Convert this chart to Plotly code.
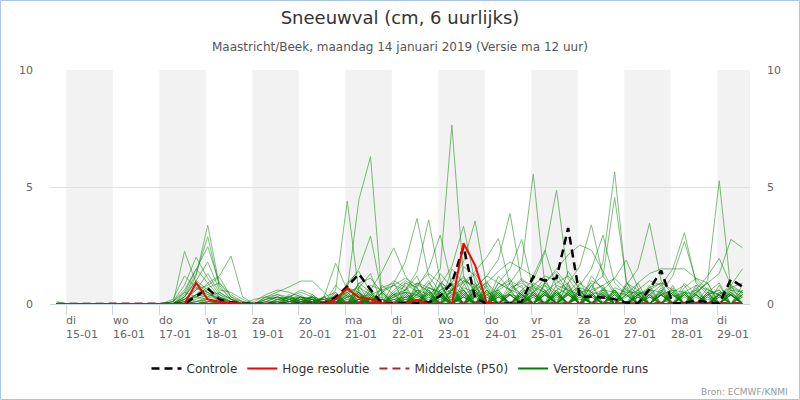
import pandas as pd
import plotly.graph_objects as go

# ---------------- data ----------------
start_time = "2019-01-14 19:00"
n_steps = 60  # 6-hourly values

controle = [0,0,0,0,0,0,0,0,0,0,
            0,0,0.33,0.67,0.2,0.07,0.02,0,0,0,
            0,0,0,0,0.3,0.75,1.28,0.62,0.02,0.02,
            0.03,0.05,0.07,0.35,0.9,2.45,0.25,0.02,0,0.03,
            0.1,1.17,1.0,1.1,3.25,0.31,0.31,0.28,0.2,0.06,
            0.03,0.62,1.43,0.02,0.06,0.14,0.08,0.03,1.05,0.74]

hres = [0,0,0,0,0,0,0,0,0,0,
        0,0,0.9,0.2,0.1,0.05,0,0,0,0,
        0,0,0,0,0.2,0.67,0.28,0.2,0.03,0,
        0,0.17,0,0,0,2.6,1.65,0.05,0,0,
        0]

p50 = [0,0,0,0,0,0,0,0,0,0,
       0,0,0.02,0.03,0.02,0,0,0,0,0,
       0,0,0,0,0.03,0.04,0.05,0.04,0.03,0.03,
       0.04,0.05,0.04,0.05,0.05,0.06,0.04,0.03,0.04,0.05,
       0.05,0.06,0.05,0.05,0.06,0.05,0.04,0.05,0.05,0.04,
       0.04,0.05,0.05,0.04,0.05,0.04,0.04,0.05,0.04,0.04]

members = [
 [0.1,0,0,0,0,0,0,0,0,0, 0,2.25,0.9,0.5,0.1,0,0,0,0,0, 0,0.3,0,0,0,0.6,0.3,0,0,0.4, 0.8,0,0,0,0.6,1.2,0,0,0.5,0, 0,0.5,1.1,0,0,0,0.4,0,0.6,0, 0,0,0.5,0,0,0.8,0,0,0.4,0],
 [0,0,0,0,0,0,0,0,0,0, 0,0.3,1.2,3.37,0.8,0.2,0,0,0,0, 0,0,0.2,0,0,0.6,4.45,6.3,0.2,0, 0,0.7,0,0.9,0,0,0.3,1.0,0,0, 0.4,0,0,1.3,0.5,0,0,0,0,0.3, 0.6,0,0,0.5,0,0,0.4,0.6,0,0],
 [0,0,0,0,0,0,0,0,0,0, 0,0.1,0.4,0.9,1.2,2.05,0.3,0,0,0, 0,0,0.2,0,0,0,0.9,0.5,0,0, 0.6,1.2,0,0,1.5,0.9,0,0,0.7,1.1, 0,0,0,0.6,0.9,0,0,0.7,0,0, 0,0.6,0.9,0,0,0.3,0,0,0.7,0.5],
 [0,0,0,0,0,0,0,0,0,0, 0.1,0.8,2.0,1.1,0.4,0.1,0,0,0,0, 0,0,0,0.3,0.5,0,0.7,1.3,0,0, 0,0.4,1.0,0,0,1.6,1.2,0,0,0.5, 0.8,0,0,0,0.5,1.0,0,0,0,0, 0.4,0,0,0.7,0,0,0.5,0.9,0,0.6],
 [0,0,0,0,0,0,0,0,0,0, 0,0.2,0.6,0.8,1.15,0.3,0,0,0,0, 0,0.2,0,0,0.6,4.4,0.5,0,0,0, 0.5,0,0,0.6,0.8,0,0.9,0,0,0.4, 0,0.7,0.5,0,0,0,1.2,0.6,0,0, 0.9,0,0,0,0.5,0,0,0.8,0,0],
 [0,0,0,0,0,0,0,0,0,0, 0,0.4,1.3,2.88,0.7,0.2,0,0,0,0.1, 0.3,0,0,0,0,0.9,1.4,0.5,0,0, 0,0.6,0,1.3,0.7,0,0.5,0,0.9,0.6, 0,0,0.8,0,1.4,0.6,0,0.5,0,0.8, 0,0,0.4,0.6,0,0.5,0.9,0,0,0.4],
 [0,0,0,0,0,0,0,0,0,0, 0,0.5,1.5,2.45,0.9,0.3,0.1,0,0,0, 0,0,0.2,0,0,0.4,0.8,0,0.5,1.0, 0.7,0,0.6,0,0,1.0,0.8,0,0,0.5, 1.1,0.6,0,0,0,0.4,0.9,0,0.5,0, 0,0.7,0,0,0.9,0.4,0,0,0.6,0.5],
 [0,0,0,0,0,0,0,0,0,0, 0,0.3,1.0,1.8,0.6,0.5,0.2,0,0,0, 0.2,0,0.3,0,0.8,0.3,0,0.6,0,0, 0.9,0.5,0,0.8,0,0.6,0,0.9,0.4,0, 0,0.8,0,0.6,0,0.7,0,0,0,0.6, 0,0,0,0.8,0,0,0,0.4,0.8,0],
 [0,0,0,0,0,0,0,0,0,0, 0.1,0.6,1.5,0.9,0.3,0.1,0,0,0,0, 0,0.1,0,0.3,0,0.5,0,0.8,0.6,0, 0,0.9,0.5,0,1.1,0.6,0,0,0.6,0, 0,0,0.9,0.5,0,0,0.6,0.8,0,0, 0.5,0,0.7,0,0,0.6,0,0,0,0.8],
 [0,0,0,0,0,0,0,0,0,0, 0.2,1.2,0.7,0.4,0.2,0,0,0,0,0, 0,0.2,0.3,0,0,0.7,0.5,0,0.8,0.4, 0,0,0.7,0.5,0,0.8,1.3,0.6,0,0, 0.6,0,0,0.8,0.6,0,0,0,0.7,0.5, 0,0.8,0,0,0,0,0.7,0,0,0],
 [0,0,0,0,0,0,0,0,0,0, 0,0.3,1.0,0.6,0.3,0.1,0,0,0,0, 0,0,0,0.3,1.74,0.6,0,0,0,0.3, 0.6,0,0.9,0.4,0,0,0.7,0,1.2,0.6, 0,0,0.5,0,0.8,0,0,0.6,0,0, 0.6,0,0,0.5,0.8,0,0,0.5,0,0],
 [0,0,0,0,0,0,0,0,0,0, 0,0.2,0.6,1.3,0.5,0.2,0.1,0,0,0, 0.2,0.3,0,0,0,0,0.9,1.1,0.5,0, 0,0.4,0,0.6,0.9,0,0,0.8,0,0.7, 0.9,0.5,0,0,0.6,0,0.8,0,0,0, 0.4,0,0.6,0,0,0.7,0,0,0.5,0],
 [0,0,0,0,0,0,0,0,0,0, 0,0.1,0.4,0.7,0.9,0.4,0.1,0,0,0, 0,0,0.4,0,0,0,0.5,0,0.7,0.9, 0,0.6,0,0.5,0,0.7,0.5,0,0,0.9, 0.4,0,0.6,0,0,0.9,0.5,0,0.6,0, 0,0.5,0,0,0.6,0,0.5,0,0,0.6],
 [0,0,0,0,0,0,0,0,0,0, 0,0.2,0.7,0.5,0.2,0.1,0,0,0,0, 0.2,0.4,0,0,0.5,0,0,0.4,0,0.6, 1.0,0.7,0,0,0.6,0,0,0.5,0,0, 0,0.9,0.6,0,0,0.5,0,0,0,0.7, 0,0,0,0.6,0,0,0.5,0.4,0,0],
 [0,0,0,0,0,0,0,0,0,0, 0,0.1,0.3,0.6,0.4,0.2,0,0,0,0, 0.3,0.5,0.3,0,0,0.8,0,0,0,0, 0.5,0,0,0.9,0,0,0.6,0,0.5,0, 0,0.4,0,0.5,0,0.6,0,0,0.5,0, 0,0,0.6,0,0,0,0.4,0.6,0,0],
 [0,0,0,0,0,0,0,0,0,0, 0.1,0.5,0.3,0.2,0.1,0,0,0,0,0, 0.4,0,0.3,0,0,0.3,0.5,0,0,0.5, 0,0.8,0.6,0,0,0.5,0,0.6,0,0, 0.5,0,0,0.4,0.7,0,0,0.5,0,0, 0.4,0.6,0,0,0.4,0,0,0,0.6,0],
 [0,0,0,0,0,0,0,0,0,0, 0,0.1,0.4,0.3,0.5,0.2,0,0,0,0, 0.1,0.3,0,0.3,0,0,0.6,0,0.5,0, 0,0,0.5,0,0.7,0,0,0,0.6,0, 0,0.5,0,0.6,0,0,0,0,0,0.5, 0.5,0,0.4,0,0.5,0,0,0.4,0,0.5],
 [0,0,0,0,0,0,0,0,0,0, 0,0.2,0.3,0.5,0.2,0.1,0,0,0.2,0.4, 0.3,0.2,0,0,0.4,0,0,0.5,0,0, 0.3,0,0.6,0,0,0.4,0,0,0,0.6, 0.4,0,0.5,0,0,0,0.5,0.4,0,0, 0,0.4,0,0,0.4,0,0,0.5,0.4,0],
 [0,0,0,0,0,0,0,0,0,0, 0,0,0.2,0.4,0.3,0.1,0,0,0.3,0.5, 0.73,0.98,0.98,0.5,0,0,0.4,0,0,0, 0.4,0,0,0.5,0,0.6,0,0.4,0,0, 0,0.4,0,0,0.5,0,0,0,0.6,0, 0,0,0.4,0,0,0.4,0,0,0,0.4],
 [0,0,0,0,0,0,0,0,0,0, 0,0,0.1,0.3,0.2,0,0,0,0.1,0.3, 0.2,0.3,0.2,0,0,0.8,1.5,2.9,0.4,0, 0,0.5,0,0.4,0.6,0,0.8,0,0,0, 0.5,0,0,0.4,0,0.6,0,0.4,0,0, 0.4,0,0,0.5,0,0,0.4,0,0.5,0],
 [0,0,0,0,0,0,0,0,0,0, 0,0,0.1,0.2,0.1,0,0,0,0,0.2, 0.3,0.6,0.4,0,0,0.4,0,0.6,1.4,2.4, 1.2,0.5,0,0,0.4,0.6,0,0,0.5,0, 0,0,0.6,0,0.4,0,0.5,0,0,0.4, 0,0.4,0,0,0.5,0,0,0.4,0,0],
 [0,0,0,0,0,0,0,0,0,0, 0,0,0,0.2,0.1,0,0,0,0.2,0.3, 0.1,0.2,0.1,0,0,0,0.5,0,0,0.9, 1.8,3.66,1.2,0.5,0,0.4,0,0.6,0,0, 0.4,0,0.5,0,0,0.6,0,0,0.4,0, 0,0,0.4,0,0,0.5,0,0,0,0.4],
 [0,0,0,0,0,0,0,0,0,0, 0,0,0,0.1,0.1,0,0,0.1,0.4,0.6, 0.5,0.3,0.2,0,0.4,0,0,0,0.5,0.8, 0.6,1.4,3.6,1.0,0.4,0,0.5,0,0,0.4, 0,0.5,0,0.4,0,0,0.5,0,0,0, 0.4,0,0,0.5,0,0,0,0.4,0,0],
 [0,0,0,0,0,0,0,0,0,0, 0,0,0,0.1,0.2,0,0,0.2,0.3,0.2, 0.1,0.2,0.3,0,0,0.5,0,0.4,0,0.5, 0.9,0.7,1.5,2.95,0.8,0.4,0,0.6,0,0, 0,0.4,0,0.5,0,0,0.4,0,0.6,0, 0,0,0.5,0,0.4,0,0,0,0.4,0],
 [0,0,0,0,0,0,0,0,0,0, 0,0,0,0,0.1,0,0,0,0,0.2, 0.3,0.1,0.2,0,0.3,0,0.4,0,0,0.3, 0.5,0.4,0.8,1.5,7.65,1.2,0.5,0,0,0.4, 0,0,0.4,0,0.5,0,0,0.4,0,0, 0,0.4,0,0,0,0.4,0,0,0.5,0],
 [0,0,0,0,0,0,0,0,0,0, 0,0,0.1,0.2,0,0,0,0,0.3,0.4, 0.2,0,0.1,0.3,0,0.4,0,0,0.5,0, 0,0.6,0.4,0.8,1.6,3.33,0.9,0.4,0,0, 0.4,0,0,0.5,0,0.4,0,0,0,0.4, 0,0,0.4,0,0.5,0,0,0,0,0.3],
 [0,0,0,0,0,0,0,0,0,0, 0,0,0,0.1,0.1,0,0,0,0.2,0.3, 0.1,0.3,0.2,0.2,0,0,0.5,0,0,0.4, 0.5,0,0.7,0.4,0.9,1.8,3.55,0.7,0,0.5, 0,0,0.4,0,0,0.5,0,0,0.4,0, 0,0,0,0.4,0,0,0.5,0,0,0],
 [0,0,0,0,0,0,0,0,0,0, 0,0,0,0,0.1,0,0,0,0.1,0.3, 0.2,0.1,0.3,0.2,0,0.3,0.4,0,0,0, 0.4,0,0.5,0,0.6,0.9,1.4,2.0,2.8,0.8, 0.4,0,0,0.5,0,0,0.4,0,0,0, 0,0.4,0,0,0,0,0.4,0,0,0],
 [0,0,0,0,0,0,0,0,0,0, 0,0,0,0.1,0,0,0,0,0,0.2, 0.1,0.2,0,0,0.3,0,0.3,0.4,0,0, 0,0.4,0,0.5,0,0.4,0.7,1.2,1.9,3.87, 1.0,0.4,0,0,0.5,0,0,0.4,0,0, 0,0,0.4,0,0,0,0,0.4,0,0],
 [0,0,0,0,0,0,0,0,0,0, 0,0,0,0,0,0,0,0,0,0, 0.1,0.1,0.2,0,0,0.3,0,0.3,0,0.4, 0,0,0.5,0.4,0,0,0.6,0,0.9,1.5, 2.76,0.6,0,0,0.4,0,0,0.5,0,0, 0,0,0,0.4,0,0,0,0,0.4,0],
 [0,0,0,0,0,0,0,0,0,0, 0,0,0,0,0,0,0,0,0,0.1, 0,0.1,0.1,0.2,0,0,0.3,0,0,0.2, 0.3,0.4,0,0.3,0.5,0,0,0.4,0.6,0.9, 1.6,5.55,0.8,0.4,0,0,0.4,0,0,0, 0,0.3,0,0,0,0.4,0,0,0,0],
 [0,0,0,0,0,0,0,0,0,0, 0,0,0,0,0,0,0,0,0,0, 0,0,0.1,0.1,0.2,0,0,0.3,0,0, 0,0.3,0.4,0,0,0.5,0,0,0.4,0, 0.6,1.0,2.2,4.87,1.1,0.4,0,0,0,0, 0.3,0,0,0,0.3,0,0,0,0.4,0],
 [0,0,0,0,0,0,0,0,0,0, 0,0,0,0,0,0,0,0,0,0, 0,0,0.1,0.2,0,0.2,0,0.3,0,0, 0.3,0,0,0.4,0,0,0.5,0,0,0.4, 0.3,0.5,0.9,1.5,2.1,2.52,2.3,1.4,0.5,0, 0,0.3,0,0,0,0,0,0.3,0,0],
 [0,0,0,0,0,0,0,0,0,0, 0,0,0,0,0,0,0,0,0.1,0.1, 0,0.1,0.1,0.1,0,0,0,0.2,0.3,0, 0,0.3,0,0.4,0,0,0.4,0,0.5,0, 0.4,0,0.5,0,0.9,1.6,3.38,1.2,0.4,0, 0,0,0.4,0,0,0,0,0.4,0,0],
 [0,0,0,0,0,0,0,0,0,0, 0,0,0,0,0,0,0,0,0,0.1, 0,0,0.1,0.2,0,0,0.2,0,0,0.3, 0,0,0.4,0,0,0,0.3,0.5,0,0, 0,0.5,0,0,0.4,0.8,1.5,2.95,0.9,0.4, 0,0,0,0,0.4,0,0,0,0,0.4],
 [0,0,0,0,0,0,0,0,0,0, 0,0,0,0,0,0,0,0,0,0, 0,0.1,0,0.1,0.2,0,0,0.2,0,0, 0,0,0.3,0,0.4,0,0,0,0.3,0.4, 0,0,0.4,0,0,0.5,0.6,1.8,5.65,0.9, 0.4,0,0,0,0,0.4,0,0,0,0],
 [0,0,0,0,0,0,0,0,0,0, 0,0,0,0,0,0,0,0,0,0, 0,0,0.1,0.1,0,0.2,0,0.2,0,0, 0.2,0,0,0.3,0,0.3,0,0.4,0,0, 0.3,0,0.4,0,0.5,0,0.8,1.2,4.56,1.0, 0,0,0.4,0,0,0,0.3,0,0,0],
 [0,0,0,0,0,0,0,0,0,0, 0,0,0,0,0,0,0,0,0,0, 0,0,0.1,0,0.1,0,0.2,0,0.2,0, 0.2,0,0,0.2,0.3,0,0.4,0,0,0, 0.4,0,0,0.5,0,0,0.4,0.6,1.1,1.88, 0.7,0,0,0.4,0,0,0,0.4,0,0],
 [0,0,0,0,0,0,0,0,0,0, 0,0,0,0,0,0,0,0,0,0, 0,0,0,0.1,0.1,0,0.1,0,0.2,0, 0,0.2,0,0,0,0.3,0,0.3,0,0.4, 0,0.3,0,0.4,0,0,0.3,0,0,0.8, 1.5,3.45,1.0,0.4,0,0,0.3,0,0.4,0],
 [0,0,0,0,0,0,0,0,0,0, 0,0,0,0,0,0,0,0,0,0, 0,0,0.1,0.1,0,0,0.2,0,0,0.2, 0,0.2,0,0.3,0,0,0.3,0,0.3,0, 0.3,0,0.4,0,0,0.4,0,0.3,0,0, 0.5,0.4,0.8,1.5,3.05,0.9,0.4,0,0,0.3],
 [0,0,0,0,0,0,0,0,0,0, 0,0,0,0,0,0,0,0,0,0, 0,0,0,0.1,0.1,0,0,0.2,0,0, 0.2,0,0.3,0,0,0.3,0,0,0.4,0, 0,0.3,0,0,0.4,0,0.3,0,0.4,0, 0.4,0.6,0.5,1.2,2.67,1.0,0.5,0,0.4,0],
 [0,0,0,0,0,0,0,0,0,0, 0,0,0,0,0,0,0,0,0,0, 0,0,0,0,0.1,0,0.1,0,0.2,0, 0,0.2,0,0,0.3,0,0,0,0.3,0, 0.3,0,0,0.2,0,0.3,0.4,0,0,0, 0.3,0,0,0.3,0.5,0.4,1.0,5.27,0.6,0.3],
 [0,0,0,0,0,0,0,0,0,0, 0,0,0,0,0,0,0,0,0,0, 0,0,0.1,0,0.1,0,0.2,0,0,0.2, 0,0.2,0,0,0.2,0,0,0.3,0,0, 0.2,0,0,0.3,0,0.4,0,0,0.3,0, 0.3,0,0.4,0,0,0.5,0.9,1.3,2.76,2.4],
 [0,0,0,0,0,0,0,0,0,0, 0,0,0,0,0,0,0,0,0,0, 0,0,0,0.1,0,0.1,0,0.1,0,0.1, 0,0,0.2,0,0,0.3,0,0,0.3,0, 0,0.4,0,0,0,0.3,0,0.4,0,0, 0.3,0,0.5,0,0.4,0.6,1.2,1.95,0.8,1.5],
 [0,0,0,0,0,0,0,0,0,0, 0,0,0,0,0,0,0,0,0,0, 0,0,0,0.1,0,0.1,0,0.2,0,0, 0.1,0,0,0.3,0,0,0.3,0,0.4,0, 0.5,0.8,1.2,1.0,0.6,0.4,0,0.6,0.5,0.4, 0.9,1.3,1.5,1.5,1.5,1.1,0.6,0.4,0,0],
 [0,0,0,0,0,0,0,0,0,0, 0,0,0,0,0,0,0,0,0,0, 0,0,0,0,0.1,0,0.2,0,0.2,0, 0.3,0,0.4,0,0.5,0,0.6,0.9,1.4,1.8, 1.5,1.2,2.3,0.7,0.4,0,0,0.3,0,0.4, 0,0.3,0,0.4,0,0,0,0.3,0.4,0],
 [0,0,0,0,0,0,0,0,0,0, 0,0,0,0,0,0,0,0,0,0, 0,0,0,0.1,0.2,0,0.2,0.3,0,0.4, 0.6,0.9,0.7,0.5,0.8,1.1,0.6,0,0.7,1.0, 0.7,0,0.9,1.4,0.8,0,1.0,0.7,0,0.9, 0.6,1.0,0.8,0,0.7,1.1,0.9,0,0.8,0.5],
 [0,0,0,0,0,0,0,0,0,0, 0,0,0,0,0,0,0,0,0,0, 0,0,0,0,0,0,0.1,0.1,0,0.1, 0.1,0,0.1,0.1,0.2,0.1,0.1,0,0.1,0.1, 0,0.1,0.1,0,0.1,0.2,0.1,0.1,0,0.1, 0.1,0,0.1,0.1,0,0.1,0.2,0.1,0,0.1],
 [0,0,0,0,0,0,0,0,0,0, 0,0,0,0,0,0,0,0,0,0, 0,0,0,0,0,0.1,0,0,0,0, 0,0,0.1,0,0,0,0.1,0,0,0, 0,0,0,0.1,0,0,0,0,0.1,0, 0,0,0,0,0.1,0,0,0,0,0],
 [0,0,0,0,0,0,0,0,0,0, 0,0,0,0,0,0,0,0,0,0, 0,0,0.1,0.2,0.3,0.5,0.7,0.4,0.6,0.8, 1.1,0.8,1.3,0.9,0.6,1.0,0.7,1.2,0.9,0.6, 1.0,0.8,0.5,0.9,1.2,0.7,0.5,0.8,1.1,0.6, 0.4,0.7,0.9,0.6,0.5,0.8,0.6,0.4,0.7,0.9],
]

tick_dates = ["2019-01-15", "2019-01-16", "2019-01-17", "2019-01-18", "2019-01-19",
              "2019-01-20", "2019-01-21", "2019-01-22", "2019-01-23", "2019-01-24",
              "2019-01-25", "2019-01-26", "2019-01-27", "2019-01-28", "2019-01-29"]
tick_days = ["di", "wo", "do", "vr", "za", "zo", "ma", "di", "wo", "do",
             "vr", "za", "zo", "ma", "di"]
shaded_days = ["2019-01-15", "2019-01-17", "2019-01-19", "2019-01-21",
               "2019-01-23", "2019-01-25", "2019-01-27", "2019-01-29"]

x_range = ["2019-01-14 15:35", "2019-01-29 16:52"]

# ---------------- figure ----------------
times = pd.date_range(start_time, periods=n_steps, freq="6h")

fig = go.Figure()

for m in members:
    fig.add_trace(go.Scatter(x=times, y=m, mode="lines",
                             line=dict(color="#008000", width=1),
                             opacity=0.5, showlegend=False, hoverinfo="skip"))

fig.add_trace(go.Scatter(x=[None], y=[None], mode="lines", name="Verstoorde runs",
                         line=dict(color="#008000", width=2), legendrank=4))
fig.add_trace(go.Scatter(x=times, y=p50, mode="lines", name="Middelste (P50)",
                         line=dict(color="#a52a2a", width=2, dash="8px,5px"),
                         legendrank=3))
fig.add_trace(go.Scatter(x=times, y=controle, mode="lines", name="Controle",
                         line=dict(color="#000000", width=2.5, dash="8px,5px"),
                         legendrank=1))
fig.add_trace(go.Scatter(x=times[:len(hres)], y=hres, mode="lines",
                         name="Hoge resolutie",
                         line=dict(color="#ff0000", width=2), legendrank=2))

shapes = []
end_ts = pd.Timestamp(x_range[1])
for d in shaded_days:
    d0 = pd.Timestamp(d)
    d1 = min(d0 + pd.Timedelta(days=1), end_ts)
    shapes.append(dict(type="rect", xref="x", yref="paper", x0=d0, x1=d1,
                       y0=0, y1=1, fillcolor="#f2f2f2", line=dict(width=0),
                       layer="below"))
# outer border
W, H, L, R, T, B = 800, 400, 50, 50, 70, 96
pw, ph = W - L - R, H - T - B
shapes.append(dict(type="rect", xref="paper", yref="paper",
                   x0=(-L + 0.5) / pw, x1=1 + (R - 0.5) / pw,
                   y0=(-B + 0.5) / ph, y1=1 + (T - 0.5) / ph,
                   line=dict(color="#a6c4ee", width=1), fillcolor="rgba(0,0,0,0)"))

annotations = []
for d, name in zip(tick_dates, tick_days):
    label = f"{name}<br>{pd.Timestamp(d).strftime('%d-%m')}"
    annotations.append(dict(x=d, y=0, xref="x", yref="paper", text=label,
                            showarrow=False, xanchor="left", yanchor="top",
                            align="left", yshift=-8, xshift=-2,
                            font=dict(size=11, color="#666666")))
annotations.append(dict(x=0.5, y=1 + (T - 47) / ph, xref="paper", yref="paper",
                        text="Maastricht/Beek, maandag 14 januari 2019 (Versie ma 12 uur)",
                        showarrow=False, xanchor="center", yanchor="middle",
                        font=dict(size=12, color="#555555")))
annotations.append(dict(x=1 + (R - 10) / pw, y=-(392 - T - ph) / ph, xref="paper",
                        yref="paper", text="Bron: ECMWF/KNMI", showarrow=False,
                        xanchor="right", yanchor="middle",
                        font=dict(size=9, color="#999999")))

fig.update_layout(
    width=W, height=H,
    margin=dict(l=L, r=R, t=T, b=B, autoexpand=False),
    paper_bgcolor="white", plot_bgcolor="white",
    font=dict(family="DejaVu Sans", color="#333333"),
    title=dict(text="Sneeuwval (cm, 6 uurlijks)", x=0.5, xanchor="center",
               y=1 - 18 / H, yanchor="middle", yref="container",
               font=dict(size=18, color="#333333")),
    showlegend=True,
    legend=dict(orientation="h", x=0.5, xanchor="center", y=-(354 - T - ph) / ph,
                yanchor="top", font=dict(size=12, color="#333333"),
                bgcolor="rgba(0,0,0,0)"),
    hovermode=False,
    shapes=shapes,
    annotations=annotations,
    xaxis=dict(type="date", range=x_range, tickvals=tick_dates,
               showticklabels=False, ticks="outside", ticklen=10,
               tickcolor="#ccd6eb", showline=True, linecolor="#ccd6eb",
               linewidth=1, showgrid=False, zeroline=False, automargin=False),
    yaxis=dict(range=[0, 10], tickvals=[0, 5, 10], showgrid=True,
               gridcolor="#e0e0e0", zeroline=False, showline=False,
               tickfont=dict(size=11, color="#666666"), ticks="",
               ticklabelstandoff=16, automargin=False),
    yaxis2=dict(range=[0, 10], tickvals=[0, 5, 10], overlaying="y",
                side="right", showgrid=False, zeroline=False, showline=False,
                tickfont=dict(size=11, color="#666666"), ticks="",
                ticklabelstandoff=16, automargin=False),
)

fig.add_trace(go.Scatter(x=[times[0]], y=[0], yaxis="y2", mode="markers",
                         marker=dict(opacity=0), showlegend=False,
                         hoverinfo="skip"))

fig.write_html("out.html", config={"displayModeBar": False},
               post_script="document.body.style.margin='0';document.body.style.overflow='hidden';")
